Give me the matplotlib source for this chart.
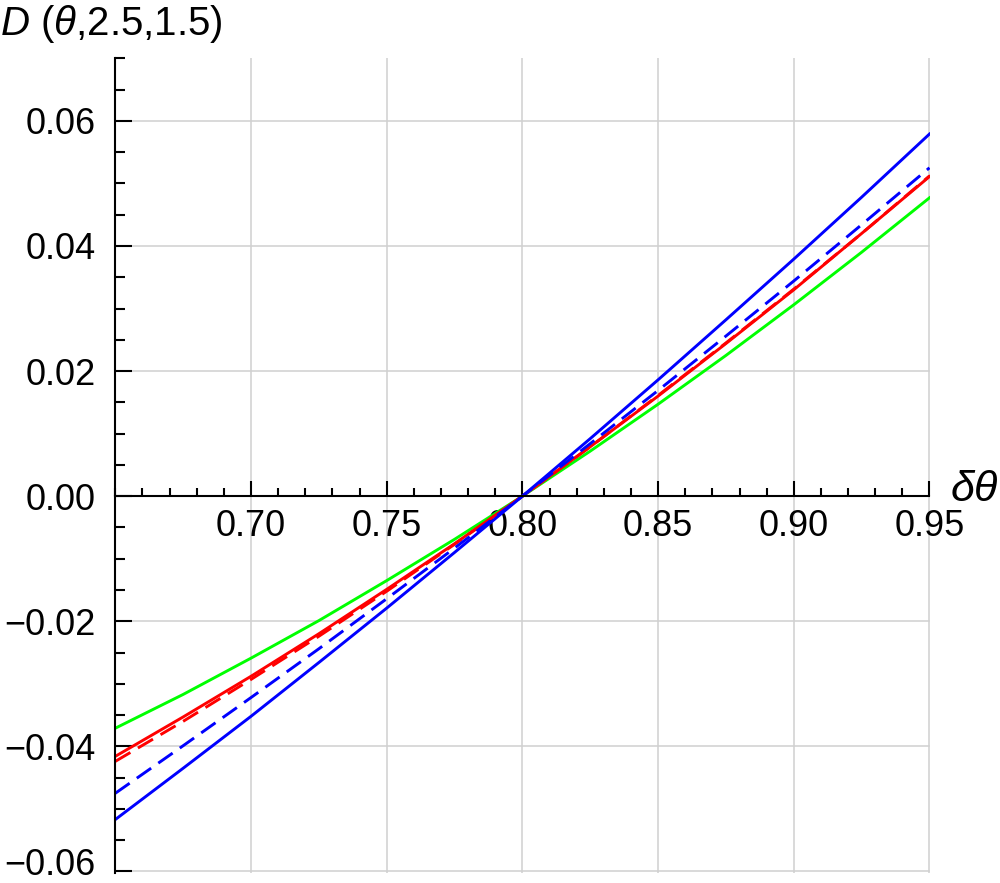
import numpy as np
import matplotlib
matplotlib.use("Agg")
import matplotlib.pyplot as plt
import matplotlib.transforms as mtransforms
from matplotlib.ticker import MultipleLocator, FixedLocator

plt.rcParams['font.family'] = ['Liberation Sans', 'DejaVu Sans']
plt.rcParams['mathtext.fontset'] = 'custom'
plt.rcParams['mathtext.rm'] = 'Liberation Sans'
plt.rcParams['mathtext.it'] = 'Liberation Sans:italic'

# values (every 0.025)
theta = [0.65, 0.675, 0.70, 0.725, 0.75, 0.775, 0.80,
         0.825, 0.85, 0.875, 0.90, 0.925, 0.95]
blue_solid = [-0.0517, -0.0435, -0.0352, -0.0266, -0.0179, -0.0090, 0.0,
              0.0092, 0.0186, 0.0282, 0.0379, 0.0478, 0.0579]
blue_dash = [-0.0475, -0.0399, -0.0322, -0.0244, -0.0164, -0.0083, 0.0,
             0.0084, 0.0169, 0.0256, 0.0344, 0.0434, 0.0525]
red_solid = [-0.0416, -0.0353, -0.0288, -0.0220, -0.0149, -0.0076, 0.0,
             0.0079, 0.0160, 0.0244, 0.0330, 0.0420, 0.0511]
red_dash = [-0.0424, -0.0360, -0.0293, -0.0224, -0.0152, -0.0077, 0.0,
            0.0079, 0.0161, 0.0245, 0.0331, 0.0420, 0.0512]
green = [-0.0371, -0.0317, -0.0259, -0.0199, -0.0135, -0.0069, 0.0,
         0.0072, 0.0147, 0.0225, 0.0306, 0.0390, 0.0477]

xticks = [0.70, 0.75, 0.80, 0.85, 0.90, 0.95]
yticks = [-0.06, -0.04, -0.02, 0.0, 0.02, 0.04, 0.06]

fig = plt.figure(figsize=(10, 8.83), dpi=100)
ax = fig.add_axes([0.1153, 0.01166, 0.8142, 0.9223])

grid_c = "#d0d0d0"
for x in xticks:
    ax.plot([x, x], [-0.0602, 0.07], color=grid_c, lw=1.1, zorder=0)
for y in yticks:
    ax.plot([0.65, 0.95], [y, y], color=grid_c, lw=1.1, zorder=0)

lw = 2.1
ax.plot(theta, green, color=(0, 1, 0), lw=lw)
ax.plot(theta, red_solid, color=(1, 0, 0), lw=lw)
ax.plot(theta, red_dash, color=(1, 0, 0), lw=lw, dashes=(6, 3))
ax.plot(theta, blue_dash, color=(0, 0, 1), lw=lw, dashes=(6, 3))
ax.plot(theta, blue_solid, color=(0, 0, 1), lw=lw)

ax.set_xlim(0.65, 0.95)
ax.set_ylim(-0.0602, 0.07)

ax.spines['top'].set_visible(False)
ax.spines['right'].set_visible(False)
ax.spines['bottom'].set_position(('data', 0))
ax.spines['left'].set_linewidth(1.5)
ax.spines['bottom'].set_linewidth(1.5)

ax.xaxis.set_major_locator(FixedLocator(xticks))
ax.xaxis.set_minor_locator(MultipleLocator(0.01))
ax.yaxis.set_major_locator(FixedLocator(yticks))
ax.yaxis.set_minor_locator(MultipleLocator(0.005))
ax.set_xticklabels(["%.2f" % v for v in xticks])
ax.set_yticklabels(["%.2f" % v if v >= 0 else "\u2212%.2f" % -v for v in yticks])

ax.tick_params(axis='x', which='major', direction='in', length=11, width=1.5, labelsize=26, pad=9)
ax.tick_params(axis='x', which='minor', direction='in', length=6, width=1.5)
ax.tick_params(axis='y', which='major', direction='in', length=12, width=1.5, labelsize=26, pad=14)
ax.tick_params(axis='y', which='minor', direction='in', length=7, width=1.5)

# nudge the bottom y label up so it is not cut by the figure edge
lbl = ax.get_yticklabels()[0]
lbl.set_transform(lbl.get_transform() + mtransforms.ScaledTranslation(0, 10 / 100, fig.dpi_scale_trans))

ax.text(0.9576, 0.001, r"$\delta\theta$", fontsize=31, ha='left', va='center', clip_on=False)
fig.text(0.0, 0.997, r"$D$ ($\theta$,2.5,1.5)", fontsize=29, ha='left', va='top')

fig.savefig("out.png", dpi=100)
plt.close(fig)
